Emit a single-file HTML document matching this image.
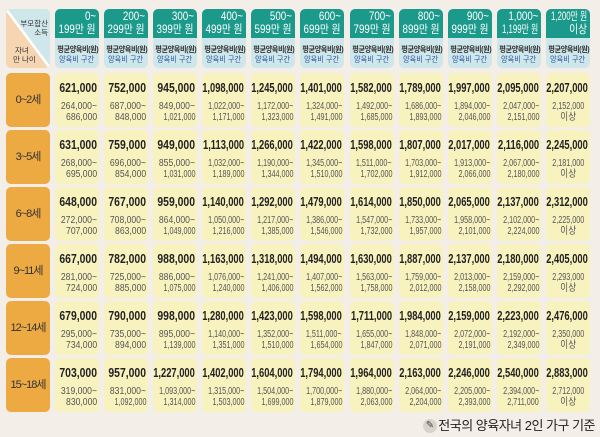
<!DOCTYPE html>
<html><head><meta charset="utf-8"><style>
*{margin:0;padding:0;box-sizing:border-box}
body{width:600px;height:437px;background:#f3eee8;position:relative;overflow:hidden;font-family:"Liberation Sans","Noto Sans CJK KR",sans-serif;color:#2a2a2a}
.c{position:absolute;width:44px}
.t{top:9px;height:29px;background:#1b998b;border-radius:5px 5px 0 0;color:#fff;font-size:11.5px;line-height:13.5px;white-space:nowrap}
.t div{position:absolute;right:3px}
.t div span{display:inline-block;transform:scaleX(.85);transform-origin:right}
.t div.w span{transform:scaleX(.68)}
.t .p{top:2px}.t .q{top:15px}
.b{top:38px;height:30px;background:#cfe7ea;border-radius:0 0 5px 5px;text-align:center;font-size:8px;line-height:9.5px;padding-top:7px;white-space:nowrap}
.b span{display:inline-block;transform:scaleX(.9)}
.b .k{font-weight:bold;color:#333;letter-spacing:-.5px}
.b .u{color:#2858a0}
.d{height:54px;background:#f8f2bf;border-radius:5px;text-align:right;padding-right:2px;white-space:nowrap}
.d div{position:absolute;right:2px}
.d span{display:inline-block;transform-origin:right}
.v{top:7px;font-size:13px;font-weight:bold;line-height:15px;color:#222}
.v span{transform:scaleX(.8)}
.v.l span{transform:scaleX(.72)}
.r1,.r2{font-size:10px;line-height:11px;color:#555}
.r1{top:28px}.r2{top:39px}
.r1 span,.r2 span{transform:scaleX(.86)}
.r1.l span,.r2.l span{transform:scaleX(.72)}
.d .m{right:auto;left:0;width:44px;text-align:center}
.d .m span{transform-origin:center}
.a{position:absolute;left:6px;width:44px;height:54px;background:#eda942;border-radius:5px;font-size:11px;line-height:54px;text-align:center;letter-spacing:-1px;color:#333}
</style></head><body>
<svg style="position:absolute;left:6px;top:9px" width="44" height="59"><defs><clipPath id="cp"><rect width="44" height="59" rx="5"/></clipPath></defs><g clip-path="url(#cp)"><rect width="44" height="59" fill="#f6d6b2"/><polygon points="0,0 44,0 44,59" fill="#cfe7ea"/><line x1="0" y1="0" x2="44" y2="59" stroke="#fff" stroke-width="2.5"/></g>
<text x="42" y="17" font-size="7.5" text-anchor="end" fill="#333" font-family="Liberation Sans,Noto Sans CJK KR,sans-serif">부모합산</text><text x="42" y="26" font-size="7.5" text-anchor="end" fill="#333" font-family="Liberation Sans,Noto Sans CJK KR,sans-serif">소득</text>
<text x="9" y="44" font-size="7.5" fill="#333" font-family="Liberation Sans,Noto Sans CJK KR,sans-serif">자녀</text><text x="7" y="53" font-size="7.5" fill="#333" font-family="Liberation Sans,Noto Sans CJK KR,sans-serif">만 나이</text></svg>

<div class="c t" style="left:55px"><div class="p"><span>0~</span></div><div class="q"><span>199만 원</span></div></div>
<div class="c t" style="left:104px"><div class="p"><span>200~</span></div><div class="q"><span>299만 원</span></div></div>
<div class="c t" style="left:153px"><div class="p"><span>300~</span></div><div class="q"><span>399만 원</span></div></div>
<div class="c t" style="left:202px"><div class="p"><span>400~</span></div><div class="q"><span>499만 원</span></div></div>
<div class="c t" style="left:251px"><div class="p"><span>500~</span></div><div class="q"><span>599만 원</span></div></div>
<div class="c t" style="left:300px"><div class="p"><span>600~</span></div><div class="q"><span>699만 원</span></div></div>
<div class="c t" style="left:350px"><div class="p"><span>700~</span></div><div class="q"><span>799만 원</span></div></div>
<div class="c t" style="left:399px"><div class="p"><span>800~</span></div><div class="q"><span>899만 원</span></div></div>
<div class="c t" style="left:448px"><div class="p"><span>900~</span></div><div class="q"><span>999만 원</span></div></div>
<div class="c t" style="left:497px"><div class="p"><span>1,000~</span></div><div class="q w"><span>1,199만 원</span></div></div>
<div class="c t" style="left:546px"><div class="p w"><span>1,200만 원</span></div><div class="q"><span>이상</span></div></div>

<div class="c b" style="left:55px"><span class="k">평균양육비(원)</span><br><span class="u">양육비 구간</span></div>
<div class="c b" style="left:104px"><span class="k">평균양육비(원)</span><br><span class="u">양육비 구간</span></div>
<div class="c b" style="left:153px"><span class="k">평균양육비(원)</span><br><span class="u">양육비 구간</span></div>
<div class="c b" style="left:202px"><span class="k">평균양육비(원)</span><br><span class="u">양육비 구간</span></div>
<div class="c b" style="left:251px"><span class="k">평균양육비(원)</span><br><span class="u">양육비 구간</span></div>
<div class="c b" style="left:300px"><span class="k">평균양육비(원)</span><br><span class="u">양육비 구간</span></div>
<div class="c b" style="left:350px"><span class="k">평균양육비(원)</span><br><span class="u">양육비 구간</span></div>
<div class="c b" style="left:399px"><span class="k">평균양육비(원)</span><br><span class="u">양육비 구간</span></div>
<div class="c b" style="left:448px"><span class="k">평균양육비(원)</span><br><span class="u">양육비 구간</span></div>
<div class="c b" style="left:497px"><span class="k">평균양육비(원)</span><br><span class="u">양육비 구간</span></div>
<div class="c b" style="left:546px"><span class="k">평균양육비(원)</span><br><span class="u">양육비 구간</span></div>

<div class="a" style="top:73px">0~2세</div>
<div class="a" style="top:130px">3~5세</div>
<div class="a" style="top:187px">6~8세</div>
<div class="a" style="top:244px">9~11세</div>
<div class="a" style="top:301px">12~14세</div>
<div class="a" style="top:358px">15~18세</div>

<!-- row 0 -->
<div class="c d" style="left:55px;top:73px"><div class="v"><span>621,000</span></div><div class="r1"><span>264,000~</span></div><div class="r2"><span>686,000</span></div></div>
<div class="c d" style="left:104px;top:73px"><div class="v"><span>752,000</span></div><div class="r1"><span>687,000~</span></div><div class="r2"><span>848,000</span></div></div>
<div class="c d" style="left:153px;top:73px"><div class="v"><span>945,000</span></div><div class="r1"><span>849,000~</span></div><div class="r2 l"><span>1,021,000</span></div></div>
<div class="c d" style="left:202px;top:73px"><div class="v l"><span>1,098,000</span></div><div class="r1 l"><span>1,022,000~</span></div><div class="r2 l"><span>1,171,000</span></div></div>
<div class="c d" style="left:251px;top:73px"><div class="v l"><span>1,245,000</span></div><div class="r1 l"><span>1,172,000~</span></div><div class="r2 l"><span>1,323,000</span></div></div>
<div class="c d" style="left:300px;top:73px"><div class="v l"><span>1,401,000</span></div><div class="r1 l"><span>1,324,000~</span></div><div class="r2 l"><span>1,491,000</span></div></div>
<div class="c d" style="left:350px;top:73px"><div class="v l"><span>1,582,000</span></div><div class="r1 l"><span>1,492,000~</span></div><div class="r2 l"><span>1,685,000</span></div></div>
<div class="c d" style="left:399px;top:73px"><div class="v l"><span>1,789,000</span></div><div class="r1 l"><span>1,686,000~</span></div><div class="r2 l"><span>1,893,000</span></div></div>
<div class="c d" style="left:448px;top:73px"><div class="v l"><span>1,997,000</span></div><div class="r1 l"><span>1,894,000~</span></div><div class="r2 l"><span>2,046,000</span></div></div>
<div class="c d" style="left:497px;top:73px"><div class="v l"><span>2,095,000</span></div><div class="r1 l"><span>2,047,000~</span></div><div class="r2 l"><span>2,151,000</span></div></div>
<div class="c d" style="left:546px;top:73px"><div class="v l"><span>2,207,000</span></div><div class="r1 l m"><span>2,152,000</span></div><div class="r2 m"><span>이상</span></div></div>
<!-- row 1 -->
<div class="c d" style="left:55px;top:130px"><div class="v"><span>631,000</span></div><div class="r1"><span>268,000~</span></div><div class="r2"><span>695,000</span></div></div>
<div class="c d" style="left:104px;top:130px"><div class="v"><span>759,000</span></div><div class="r1"><span>696,000~</span></div><div class="r2"><span>854,000</span></div></div>
<div class="c d" style="left:153px;top:130px"><div class="v"><span>949,000</span></div><div class="r1"><span>855,000~</span></div><div class="r2 l"><span>1,031,000</span></div></div>
<div class="c d" style="left:202px;top:130px"><div class="v l"><span>1,113,000</span></div><div class="r1 l"><span>1,032,000~</span></div><div class="r2 l"><span>1,189,000</span></div></div>
<div class="c d" style="left:251px;top:130px"><div class="v l"><span>1,266,000</span></div><div class="r1 l"><span>1,190,000~</span></div><div class="r2 l"><span>1,344,000</span></div></div>
<div class="c d" style="left:300px;top:130px"><div class="v l"><span>1,422,000</span></div><div class="r1 l"><span>1,345,000~</span></div><div class="r2 l"><span>1,510,000</span></div></div>
<div class="c d" style="left:350px;top:130px"><div class="v l"><span>1,598,000</span></div><div class="r1 l"><span>1,511,000~</span></div><div class="r2 l"><span>1,702,000</span></div></div>
<div class="c d" style="left:399px;top:130px"><div class="v l"><span>1,807,000</span></div><div class="r1 l"><span>1,703,000~</span></div><div class="r2 l"><span>1,912,000</span></div></div>
<div class="c d" style="left:448px;top:130px"><div class="v l"><span>2,017,000</span></div><div class="r1 l"><span>1,913,000~</span></div><div class="r2 l"><span>2,066,000</span></div></div>
<div class="c d" style="left:497px;top:130px"><div class="v l"><span>2,116,000</span></div><div class="r1 l"><span>2,067,000~</span></div><div class="r2 l"><span>2,180,000</span></div></div>
<div class="c d" style="left:546px;top:130px"><div class="v l"><span>2,245,000</span></div><div class="r1 l m"><span>2,181,000</span></div><div class="r2 m"><span>이상</span></div></div>
<!-- row 2 -->
<div class="c d" style="left:55px;top:187px"><div class="v"><span>648,000</span></div><div class="r1"><span>272,000~</span></div><div class="r2"><span>707,000</span></div></div>
<div class="c d" style="left:104px;top:187px"><div class="v"><span>767,000</span></div><div class="r1"><span>708,000~</span></div><div class="r2"><span>863,000</span></div></div>
<div class="c d" style="left:153px;top:187px"><div class="v"><span>959,000</span></div><div class="r1"><span>864,000~</span></div><div class="r2 l"><span>1,049,000</span></div></div>
<div class="c d" style="left:202px;top:187px"><div class="v l"><span>1,140,000</span></div><div class="r1 l"><span>1,050,000~</span></div><div class="r2 l"><span>1,216,000</span></div></div>
<div class="c d" style="left:251px;top:187px"><div class="v l"><span>1,292,000</span></div><div class="r1 l"><span>1,217,000~</span></div><div class="r2 l"><span>1,385,000</span></div></div>
<div class="c d" style="left:300px;top:187px"><div class="v l"><span>1,479,000</span></div><div class="r1 l"><span>1,386,000~</span></div><div class="r2 l"><span>1,546,000</span></div></div>
<div class="c d" style="left:350px;top:187px"><div class="v l"><span>1,614,000</span></div><div class="r1 l"><span>1,547,000~</span></div><div class="r2 l"><span>1,732,000</span></div></div>
<div class="c d" style="left:399px;top:187px"><div class="v l"><span>1,850,000</span></div><div class="r1 l"><span>1,733,000~</span></div><div class="r2 l"><span>1,957,000</span></div></div>
<div class="c d" style="left:448px;top:187px"><div class="v l"><span>2,065,000</span></div><div class="r1 l"><span>1,958,000~</span></div><div class="r2 l"><span>2,101,000</span></div></div>
<div class="c d" style="left:497px;top:187px"><div class="v l"><span>2,137,000</span></div><div class="r1 l"><span>2,102,000~</span></div><div class="r2 l"><span>2,224,000</span></div></div>
<div class="c d" style="left:546px;top:187px"><div class="v l"><span>2,312,000</span></div><div class="r1 l m"><span>2,225,000</span></div><div class="r2 m"><span>이상</span></div></div>
<!-- row 3 -->
<div class="c d" style="left:55px;top:244px"><div class="v"><span>667,000</span></div><div class="r1"><span>281,000~</span></div><div class="r2"><span>724,000</span></div></div>
<div class="c d" style="left:104px;top:244px"><div class="v"><span>782,000</span></div><div class="r1"><span>725,000~</span></div><div class="r2"><span>885,000</span></div></div>
<div class="c d" style="left:153px;top:244px"><div class="v"><span>988,000</span></div><div class="r1"><span>886,000~</span></div><div class="r2 l"><span>1,075,000</span></div></div>
<div class="c d" style="left:202px;top:244px"><div class="v l"><span>1,163,000</span></div><div class="r1 l"><span>1,076,000~</span></div><div class="r2 l"><span>1,240,000</span></div></div>
<div class="c d" style="left:251px;top:244px"><div class="v l"><span>1,318,000</span></div><div class="r1 l"><span>1,241,000~</span></div><div class="r2 l"><span>1,406,000</span></div></div>
<div class="c d" style="left:300px;top:244px"><div class="v l"><span>1,494,000</span></div><div class="r1 l"><span>1,407,000~</span></div><div class="r2 l"><span>1,562,000</span></div></div>
<div class="c d" style="left:350px;top:244px"><div class="v l"><span>1,630,000</span></div><div class="r1 l"><span>1,563,000~</span></div><div class="r2 l"><span>1,758,000</span></div></div>
<div class="c d" style="left:399px;top:244px"><div class="v l"><span>1,887,000</span></div><div class="r1 l"><span>1,759,000~</span></div><div class="r2 l"><span>2,012,000</span></div></div>
<div class="c d" style="left:448px;top:244px"><div class="v l"><span>2,137,000</span></div><div class="r1 l"><span>2,013,000~</span></div><div class="r2 l"><span>2,158,000</span></div></div>
<div class="c d" style="left:497px;top:244px"><div class="v l"><span>2,180,000</span></div><div class="r1 l"><span>2,159,000~</span></div><div class="r2 l"><span>2,292,000</span></div></div>
<div class="c d" style="left:546px;top:244px"><div class="v l"><span>2,405,000</span></div><div class="r1 l m"><span>2,293,000</span></div><div class="r2 m"><span>이상</span></div></div>
<!-- row 4 -->
<div class="c d" style="left:55px;top:301px"><div class="v"><span>679,000</span></div><div class="r1"><span>295,000~</span></div><div class="r2"><span>734,000</span></div></div>
<div class="c d" style="left:104px;top:301px"><div class="v"><span>790,000</span></div><div class="r1"><span>735,000~</span></div><div class="r2"><span>894,000</span></div></div>
<div class="c d" style="left:153px;top:301px"><div class="v"><span>998,000</span></div><div class="r1"><span>895,000~</span></div><div class="r2 l"><span>1,139,000</span></div></div>
<div class="c d" style="left:202px;top:301px"><div class="v l"><span>1,280,000</span></div><div class="r1 l"><span>1,140,000~</span></div><div class="r2 l"><span>1,351,000</span></div></div>
<div class="c d" style="left:251px;top:301px"><div class="v l"><span>1,423,000</span></div><div class="r1 l"><span>1,352,000~</span></div><div class="r2 l"><span>1,510,000</span></div></div>
<div class="c d" style="left:300px;top:301px"><div class="v l"><span>1,598,000</span></div><div class="r1 l"><span>1,511,000~</span></div><div class="r2 l"><span>1,654,000</span></div></div>
<div class="c d" style="left:350px;top:301px"><div class="v l"><span>1,711,000</span></div><div class="r1 l"><span>1,655,000~</span></div><div class="r2 l"><span>1,847,000</span></div></div>
<div class="c d" style="left:399px;top:301px"><div class="v l"><span>1,984,000</span></div><div class="r1 l"><span>1,848,000~</span></div><div class="r2 l"><span>2,071,000</span></div></div>
<div class="c d" style="left:448px;top:301px"><div class="v l"><span>2,159,000</span></div><div class="r1 l"><span>2,072,000~</span></div><div class="r2 l"><span>2,191,000</span></div></div>
<div class="c d" style="left:497px;top:301px"><div class="v l"><span>2,223,000</span></div><div class="r1 l"><span>2,192,000~</span></div><div class="r2 l"><span>2,349,000</span></div></div>
<div class="c d" style="left:546px;top:301px"><div class="v l"><span>2,476,000</span></div><div class="r1 l m"><span>2,350,000</span></div><div class="r2 m"><span>이상</span></div></div>
<!-- row 5 -->
<div class="c d" style="left:55px;top:358px"><div class="v"><span>703,000</span></div><div class="r1"><span>319,000~</span></div><div class="r2"><span>830,000</span></div></div>
<div class="c d" style="left:104px;top:358px"><div class="v"><span>957,000</span></div><div class="r1"><span>831,000~</span></div><div class="r2 l"><span>1,092,000</span></div></div>
<div class="c d" style="left:153px;top:358px"><div class="v l"><span>1,227,000</span></div><div class="r1 l"><span>1,093,000~</span></div><div class="r2 l"><span>1,314,000</span></div></div>
<div class="c d" style="left:202px;top:358px"><div class="v l"><span>1,402,000</span></div><div class="r1 l"><span>1,315,000~</span></div><div class="r2 l"><span>1,503,000</span></div></div>
<div class="c d" style="left:251px;top:358px"><div class="v l"><span>1,604,000</span></div><div class="r1 l"><span>1,504,000~</span></div><div class="r2 l"><span>1,699,000</span></div></div>
<div class="c d" style="left:300px;top:358px"><div class="v l"><span>1,794,000</span></div><div class="r1 l"><span>1,700,000~</span></div><div class="r2 l"><span>1,879,000</span></div></div>
<div class="c d" style="left:350px;top:358px"><div class="v l"><span>1,964,000</span></div><div class="r1 l"><span>1,880,000~</span></div><div class="r2 l"><span>2,063,000</span></div></div>
<div class="c d" style="left:399px;top:358px"><div class="v l"><span>2,163,000</span></div><div class="r1 l"><span>2,064,000~</span></div><div class="r2 l"><span>2,204,000</span></div></div>
<div class="c d" style="left:448px;top:358px"><div class="v l"><span>2,246,000</span></div><div class="r1 l"><span>2,205,000~</span></div><div class="r2 l"><span>2,393,000</span></div></div>
<div class="c d" style="left:497px;top:358px"><div class="v l"><span>2,540,000</span></div><div class="r1 l"><span>2,394,000~</span></div><div class="r2 l"><span>2,711,000</span></div></div>
<div class="c d" style="left:546px;top:358px"><div class="v l"><span>2,883,000</span></div><div class="r1 l m"><span>2,712,000</span></div><div class="r2 m"><span>이상</span></div></div>

<div style="position:absolute;left:423px;top:419px;width:14px;height:14px;border-radius:7px;background:#d8d4cc;color:#444;font-size:10px;line-height:14px;text-align:center">✎</div>
<div style="position:absolute;right:5px;top:417px;font-size:13px;line-height:18px;color:#222;letter-spacing:-.5px;white-space:nowrap">전국의 양육자녀 2인 가구 기준</div>
</body></html>
